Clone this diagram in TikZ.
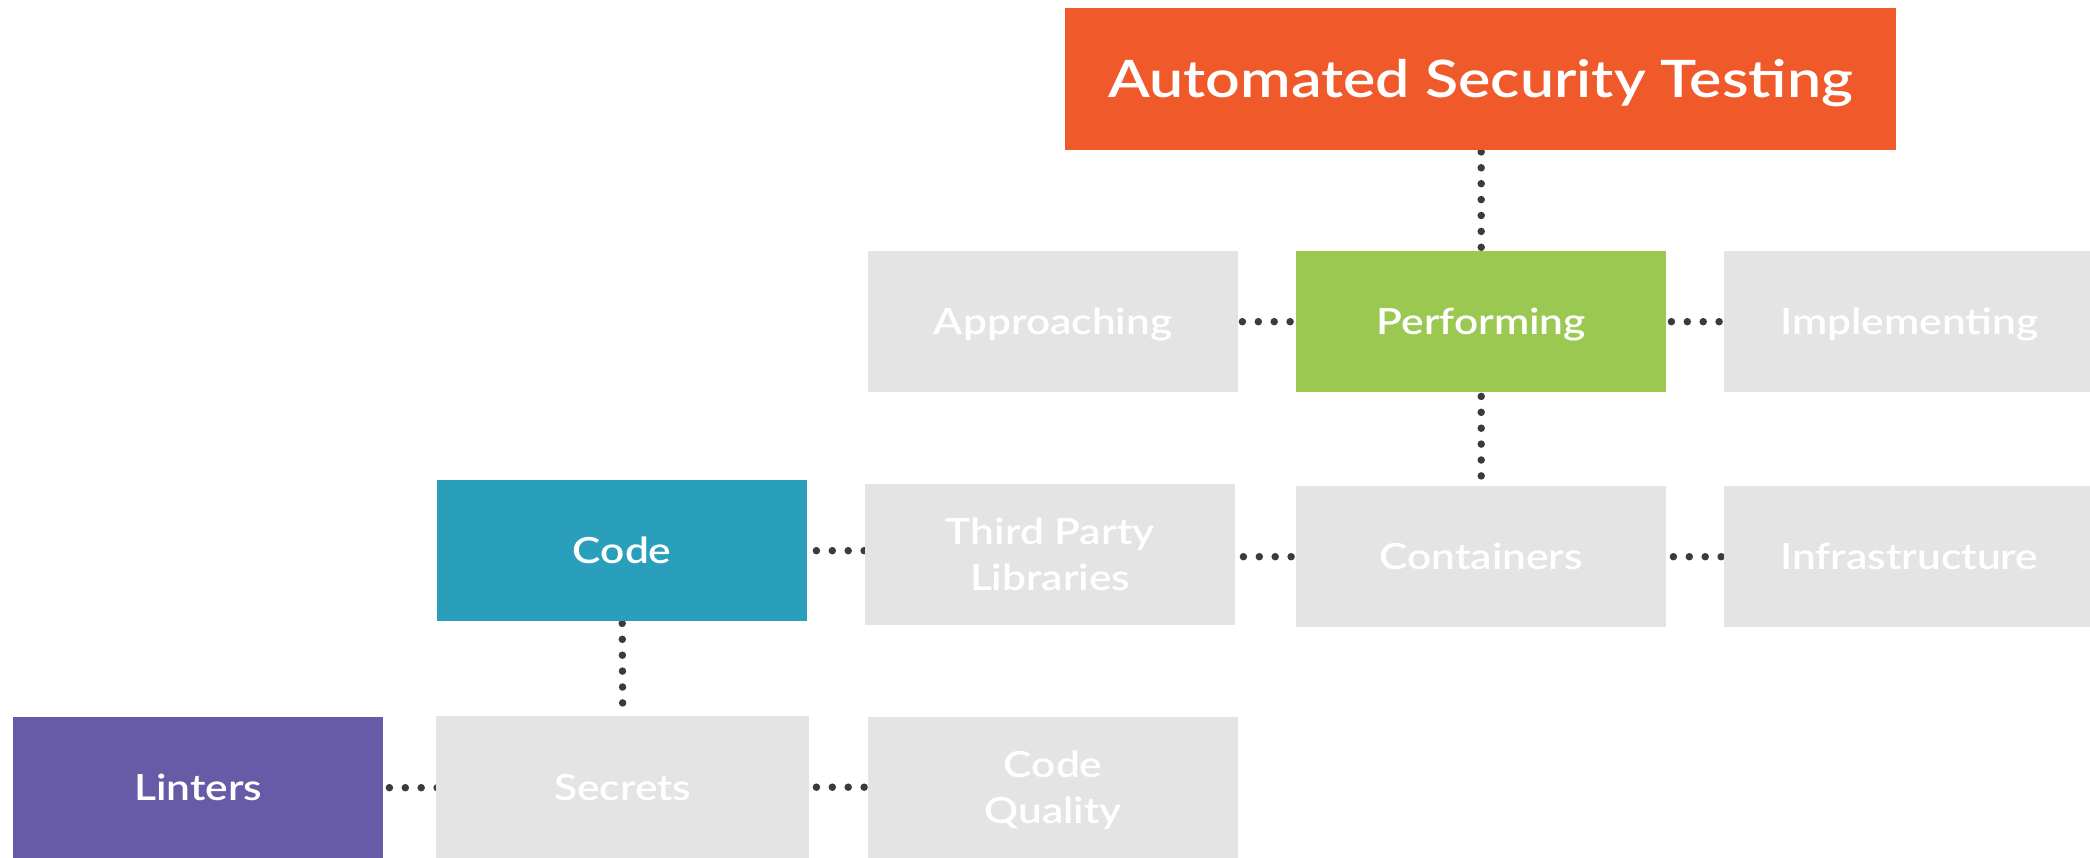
\documentclass[tikz,border=0pt]{standalone}
\usepackage{fontspec}
\setmainfont{Lato Semibold}[FakeStretch=1.18]
\usetikzlibrary{backgrounds}
\definecolor{headorange}{HTML}{F0592A}
\definecolor{stepgreen}{HTML}{9BC850}
\definecolor{codeteal}{HTML}{2A9FBC}
\definecolor{lintpurple}{HTML}{675BA7}
\definecolor{boxgray}{HTML}{E4E4E4}
\definecolor{dotgray}{HTML}{3B3B3B}
\begin{document}
\begin{tikzpicture}[x=1pt,y=-1pt,
  box/.style={fill=boxgray, text=white, minimum width=370pt, minimum height=141pt,
    inner sep=0pt, anchor=north west, font=\fontsize{36}{46}\selectfont,
    text height=26pt, text depth=0pt},
  twoline/.style={text depth=46pt},
  dots/.style={draw=dotgray, line width=7.5pt, line cap=round,
    dash pattern=on 0pt off 15.9pt}]

\useasboundingbox (0,0) rectangle (2090,858);

% title
\node[box, fill=headorange, minimum width=831pt, minimum height=142pt,
      font=\fontsize{51.6}{60}\selectfont, text height=37pt] (title) at (1065,8)
      {Automated Security Testing};

% first row
\node[box] (approach) at (868,251) {Approaching};
\node[box, fill=stepgreen] (perform) at (1296,251) {Performing};
\node[box] (implement) at (1724,251) {Implementing};

% second row
\node[box, fill=codeteal] (code) at (437,480) {Code};
\node[box, twoline] (third) at (865,484)
  {\begin{tabular}[t]{@{}c@{}}Third Party\\Libraries\end{tabular}};
\node[box] (contain) at (1296,486) {Containers};
\node[box] (infra) at (1724,486) {Infrastructure};

% third row
\node[box, fill=lintpurple] (linters) at (13,717) {Linters};
\node[box, minimum width=373pt, minimum height=142pt] (secrets) at (436,716) {Secrets};
\node[box, twoline] (quality) at (868,717)
  {\begin{tabular}[t]{@{}c@{}}Code\\Quality\end{tabular}};

% dotted connectors, kept behind the boxes
\begin{scope}[on background layer]
  \fill[white] (0,0) rectangle (2090,858);
  \draw[dots, shorten <=1.5pt, shorten >=2.5pt] (title.south -| perform.north) -- (perform.north);
  \draw[dots, shorten <=4pt, shorten >=9pt] (perform.south) -- (contain.north);
  \draw[dots, shorten <=2pt] (code.south) -- (secrets.north);

  \draw[dots, shorten <=4pt, shorten >=5pt] (approach.east) -- (approach.east -| perform.west);
  \draw[dots, shorten <=5pt, shorten >=4pt] (perform.east) -- (perform.east -| implement.west);
  \draw[dots, shorten <=9pt] (code.east) -- (code.east -| third.west);
  \draw[dots, shorten <=8pt, shorten >=4pt] (contain.west -| third.east) -- (contain.west);
  \draw[dots, shorten <=7pt, shorten >=2pt] (contain.east) -- (contain.east -| infra.west);
  \draw[dots, shorten <=6pt, shorten >=-2pt] (linters.east) -- (linters.east -| secrets.west);
  \draw[dots, shorten <=7pt, shorten >=3pt] (secrets.east) -- (secrets.east -| quality.west);
\end{scope}
\end{tikzpicture}
\end{document}
